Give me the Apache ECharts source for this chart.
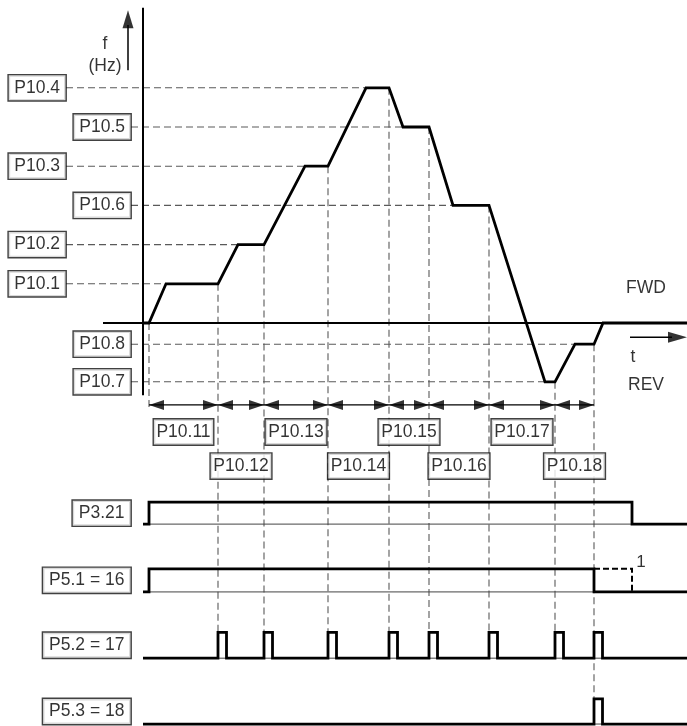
<!DOCTYPE html>
<html>
<head>
<meta charset="utf-8">
<style>
html, body { margin: 0; padding: 0; background: #fff; }
#main { width: 687px; height: 726px; }
</style>
<script src="https://cdn.jsdelivr.net/npm/echarts@6/dist/echarts.min.js"></script>
</head>
<body>
<div id="main"></div>
<script>
// frequency reference levels (f axis, Hz-like units)
const levelNames = ['P10.4', 'P10.5', 'P10.3', 'P10.6', 'P10.2', 'P10.1', 'P10.8', 'P10.7'];
const levelHz = [60, 50, 40, 30, 20, 10, -5.4, -15];

// frequency profile over time
const profT = [0, 1.2, 4.6, 15, 19, 24.2, 32.4, 37, 44.6, 49.2, 52, 57.2, 62, 69.2, 80.4, 82.4, 86.4, 90.2, 92, 108.8];
const profHz = [0, 0, 10, 10, 20, 20, 40, 40, 60, 60, 50, 50, 30, 30, -15, -15, -5.4, -5.4, 0, 0];

// time markers and the ramp time parameters between them
const markT = [1.2, 15, 24.2, 37, 49.2, 57.2, 69.2, 82.4, 90.2];
const durNames = ['P10.11', 'P10.12', 'P10.13', 'P10.14', 'P10.15', 'P10.16', 'P10.17', 'P10.18'];

// digital signals
const sigNames = ['P3.21', 'P5.1 = 16', 'P5.2 = 17', 'P5.3 = 18'];
const p321Steps = [[0, 0], [1.2, 1], [97.8, 0]];
const p51Steps = [[0, 0], [1.2, 1], [90.2, 0]];
const p51Dashed = [[90.2, 1], [97.8, 1], [97.8, 0]];
const p52Pulses = [15, 24.2, 37, 49.2, 57.2, 69.2, 82.4, 90.2];
const p53Pulses = [90.2];
const pulseWidth = 1.7;

// layout (drawing units)
const T_MIN = -28.6, T_MAX = 108.8, Y_MIN = -102.8, Y_MAX = 82.4;
const rowBase = [-51.3, -68.6, -85.5, -102.3];
const rowAmp = [5.6, 5.9, 6.6, 6.4];
const levelEdge = { 'P10.4': -15.4, 'P10.3': -15.4, 'P10.2': -15.4, 'P10.1': -15.4 };
const nearEdge = -2.4;
const arrowY = -20.9;
const durRowY = [-27.8, -36.5];

const FONT = '"Liberation Sans", Arial, sans-serif';
const INK = '#000';
const DASH = '#5a5a5a';

function poly(points, width, opts) {
  opts = opts || {};
  return {
    type: 'line',
    data: points,
    showSymbol: false,
    symbol: 'none',
    silent: true,
    z: opts.z || 3,
    lineStyle: {
      color: opts.color || INK,
      width: width,
      type: opts.type || 'solid',
      cap: 'butt',
      join: 'miter'
    }
  };
}

function stepTrace(steps, end) {
  const pts = [];
  steps.forEach((s, i) => {
    if (i > 0) pts.push([s[0], steps[i - 1][1]]);
    pts.push([s[0], s[1]]);
  });
  pts.push([end, steps[steps.length - 1][1]]);
  return pts;
}

function pulseSteps(list) {
  const s = [[0, 0]];
  list.forEach(p => { s.push([p, 1]); s.push([p + pulseWidth, 0]); });
  return s;
}

function onRow(pts, r) {
  return pts.map(p => [p[0], rowBase[r] + p[1] * rowAmp[r]]);
}

function arrows(items) {
  // items: [t, y, dir, w, len]
  return {
    type: 'scatter',
    silent: true,
    z: 6,
    symbol: 'triangle',
    itemStyle: { color: INK },
    data: items.map(a => {
      const rot = { up: 0, left: 90, right: -90 }[a[2]];
      const off = { up: [0, a[4] / 2], left: [a[4] / 2, 0], right: [-a[4] / 2, 0] }[a[2]];
      return { value: [a[0], a[1]], symbolRotate: rot, symbolOffset: off, symbolSize: [a[3], a[4]] };
    })
  };
}

function boxes(items, position, padX) {
  return {
    type: 'scatter',
    silent: true,
    z: 10,
    symbolSize: 1,
    itemStyle: { color: 'rgba(0,0,0,0)' },
    data: items,
    label: {
      show: true,
      position: position,
      distance: 0,
      formatter: p => p.name,
      color: INK,
      textBorderWidth: 0,
      fontFamily: FONT,
      fontSize: 17.5,
      lineHeight: 19,
      backgroundColor: '#fff',
      borderColor: '#111',
      borderWidth: 1.4,
      padding: [3, padX, 3, padX]
    }
  };
}

function texts(items, size) {
  return {
    type: 'scatter',
    silent: true,
    z: 10,
    symbolSize: 1,
    itemStyle: { color: 'rgba(0,0,0,0)' },
    data: items,
    label: {
      show: true,
      position: 'inside',
      formatter: p => p.name,
      color: INK,
      textBorderWidth: 0,
      fontFamily: FONT,
      fontSize: size
    }
  };
}

const series = [];

// dashed reference lines for the levels
levelNames.forEach((n, i) => {
  const from = levelEdge[n] !== undefined ? levelEdge[n] : nearEdge;
  let k = 1;
  while (profHz[k] !== levelHz[i]) k++;
  series.push(poly([[from, levelHz[i]], [profT[k], levelHz[i]]], 1.1, { color: DASH, type: [7, 4], z: 2 }));
});

// dashed vertical markers
markT.forEach(t => {
  const startY = profHz[profT.indexOf(t)];
  let endY = arrowY - 1.4;
  if (p53Pulses.indexOf(t) >= 0) endY = rowBase[3] + rowAmp[3];
  else if (p52Pulses.indexOf(t) >= 0) endY = rowBase[2] + rowAmp[2];
  series.push(poly([[t, startY], [t, endY]], 1.1, { color: DASH, type: [7, 4], z: 2 }));
});

// axes
series.push(poly([[0, 80.4], [0, -18.4]], 2));
series.push(poly([[-8, 0], [T_MAX, 0]], 2));
series.push(poly([[-3, 64.5], [-3, 76]], 1.5));
series.push(poly([[97.4, -3.6], [T_MAX - 3, -3.6]], 1.5));

// frequency curve
series.push(poly(profT.map((t, i) => [t, profHz[i]]), 2.8, { z: 4 }));

// duration arrows
const arrowItems = [];
for (let i = 0; i < markT.length - 1; i++) {
  series.push(poly([[markT[i], arrowY], [markT[i + 1], arrowY]], 1.2));
  arrowItems.push([markT[i], arrowY, 'left', 10, 15]);
  arrowItems.push([markT[i + 1], arrowY, 'right', 10, 15]);
}
arrowItems.push([-3, 79.8, 'up', 11, 18]);
arrowItems.push([T_MAX, -3.6, 'right', 11, 19]);
series.push(arrows(arrowItems));

// digital signals
const traces = [
  stepTrace(p321Steps, T_MAX),
  stepTrace(p51Steps, T_MAX),
  stepTrace(pulseSteps(p52Pulses), T_MAX),
  stepTrace(pulseSteps(p53Pulses), T_MAX)
];
traces.forEach((tr, r) => {
  series.push(poly(onRow([[1.2, 0], [T_MAX, 0]], r), 1, { color: '#444', z: 3 }));
  series.push(poly(onRow(tr, r), 2.8, { z: 4 }));
});
series.push(poly(onRow(p51Dashed, 1), 2, { type: [6, 3], z: 4 }));

// boxed labels
series.push(boxes(levelNames.map((n, i) => ({
  name: n,
  value: [levelEdge[n] !== undefined ? levelEdge[n] : nearEdge, levelHz[i]]
})), 'left', 5.5));
series.push(boxes(sigNames.map((n, r) => ({
  name: n,
  value: [nearEdge, rowBase[r] + rowAmp[r] / 2]
})), 'left', 6));
series.push(boxes(durNames.map((n, i) => ({
  name: n,
  value: [(markT[i] + markT[i + 1]) / 2, durRowY[i % 2]]
})), 'inside', 2.5));

// free text
series.push(texts([
  { name: 'f', value: [-7.6, 71.2] },
  { name: '(Hz)', value: [-7.6, 65.6] },
  { name: 'FWD', value: [100.6, 8.9] },
  { name: 't', value: [98, -8.7] },
  { name: 'REV', value: [100.6, -15.8] }
], 17.5));
series.push(texts([{ name: '1', value: [99.6, -61] }], 17));

const chart = echarts.init(document.getElementById('main'));
chart.setOption({
  animation: false,
  backgroundColor: '#fff',
  grid: { left: 0, right: 0, top: 0, bottom: 0 },
  xAxis: { type: 'value', min: T_MIN, max: T_MAX, show: false },
  yAxis: { type: 'value', min: Y_MIN, max: Y_MAX, show: false },
  series: series
});
</script>
</body>
</html>
